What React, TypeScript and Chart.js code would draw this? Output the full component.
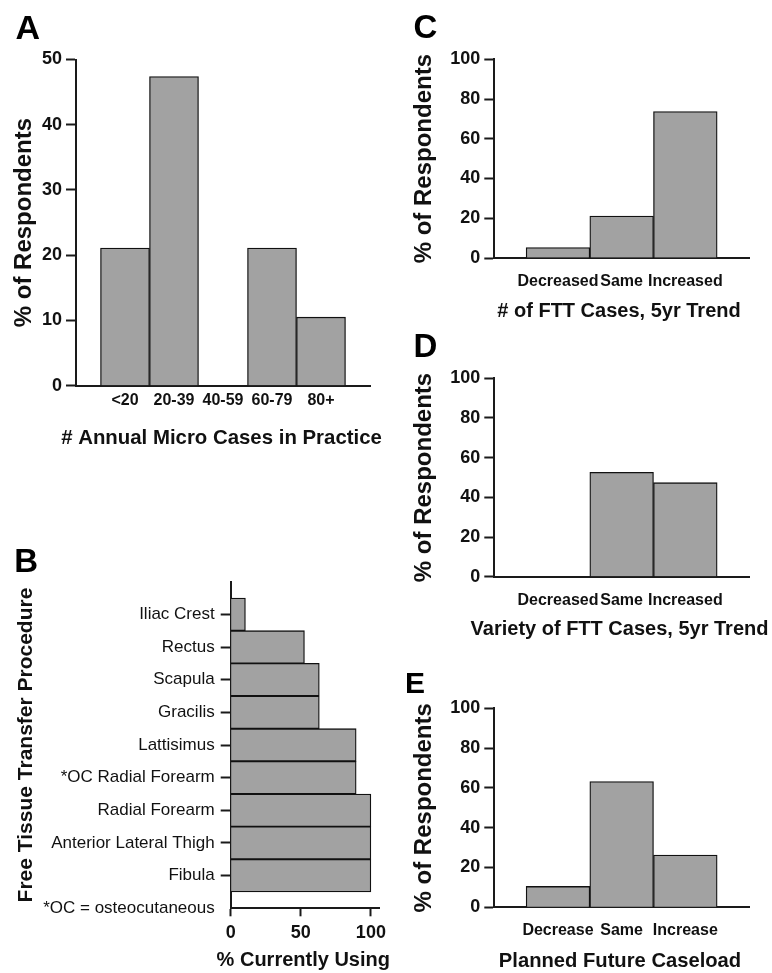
import React, { useEffect, useRef } from 'react';
import { Chart, registerables } from 'chart.js';

Chart.register(...registerables);

const FONT = '"Liberation Sans", Arial, Helvetica, sans-serif';
const INK = '#111111';
const AXIS = '#1a1a1a';
const BAR_FILL = '#a2a2a2';
const BAR_EDGE = '#111111';

// Panel A
const annualCategories = ['<20', '20-39', '40-59', '60-79', '80+'];
const annualValues = [21.1, 47.4, 0, 21.1, 10.5];
const annualTicks = [0, 10, 20, 30, 40, 50];

// Panel B
const procedureCategories = [
  'Iliac Crest',
  'Rectus',
  'Scapula',
  'Gracilis',
  'Lattisimus',
  '*OC Radial Forearm',
  'Radial Forearm',
  'Anterior Lateral Thigh',
  'Fibula',
];
const procedureValues = [10.5, 52.6, 63.2, 63.2, 89.5, 89.5, 100, 100, 100];
const procedureFootnote = '*OC = osteocutaneous';
const usingTicks = [0, 50, 100];

// Panels C, D, E
const trendCategories = ['Decreased', 'Same', 'Increased'];
const fttCountValues = [5.3, 21.1, 73.7];
const fttVarietyValues = [0, 52.6, 47.4];
const plannedCategories = ['Decrease', 'Same', 'Increase'];
const plannedValues = [10.5, 63.2, 26.3];
const percentTicks = [0, 20, 40, 60, 80, 100];

type Box = { l: number; t: number; r: number; b: number };
type Geo = { x: number; y: number; w: number; h: number; area: Box };
type TitleSpec = { text: string; size: number; cx: number; cy: number };

function derive(g: Geo) {
  return {
    padTop: g.area.t - g.y,
    padRight: g.x + g.w - g.area.r,
    yWidth: g.area.l - g.x,
    xHeight: g.y + g.h - g.area.b,
  };
}

// Axis title drawn without Chart.js's width squeeze (titles are wider than the plot area).
function xTitlePlugin(geo: Geo, t: TitleSpec) {
  return {
    id: 'wideXTitle',
    afterDraw(chart: any) {
      const ctx = chart.ctx;
      ctx.save();
      ctx.font = `bold ${t.size}px ${FONT}`;
      ctx.fillStyle = INK;
      ctx.textAlign = 'center';
      ctx.textBaseline = 'middle';
      ctx.fillText(t.text, t.cx - geo.x, t.cy - geo.y);
      ctx.restore();
    },
  };
}

function verticalBarConfig(o: {
  geo: Geo;
  labels: string[];
  values: number[];
  yMax: number;
  yTicks: number[];
  yTitle: string;
  xTitle: TitleSpec;
  xTickPad: number;
  yTitlePadTop: number;
}) {
  const d = derive(o.geo);
  const labels = ['', ...o.labels, ''];
  const data = [null, ...o.values, null];
  return {
    type: 'bar',
    data: {
      labels,
      datasets: [
        {
          data,
          backgroundColor: BAR_FILL,
          borderColor: BAR_EDGE,
          borderWidth: 1.3,
          barPercentage: 1,
          categoryPercentage: 1,
        },
      ],
    },
    plugins: [xTitlePlugin(o.geo, o.xTitle)],
    options: {
      responsive: false,
      animation: false,
      maintainAspectRatio: false,
      layout: { padding: { top: d.padTop, right: d.padRight, left: 0, bottom: 0 } },
      plugins: { legend: { display: false }, tooltip: { enabled: false } },
      scales: {
        x: {
          type: 'category',
          offset: false,
          grid: { display: false, drawTicks: false, offset: false },
          border: { display: true, color: AXIS, width: 2 },
          ticks: {
            autoSkip: false,
            maxRotation: 0,
            minRotation: 0,
            padding: o.xTickPad,
            color: INK,
            font: { family: FONT, size: 16, weight: 'bold' },
          },
          title: { display: false },
          afterFit: (s: any) => {
            s.height = d.xHeight;
          },
        },
        y: {
          type: 'linear',
          min: 0,
          max: o.yMax,
          afterBuildTicks: (s: any) => {
            s.ticks = o.yTicks.map((v) => ({ value: v }));
          },
          grid: {
            drawOnChartArea: false,
            drawTicks: true,
            tickLength: 10,
            tickWidth: 2,
            tickColor: AXIS,
          },
          border: { display: true, color: AXIS, width: 2 },
          ticks: {
            padding: 4,
            color: INK,
            font: { family: FONT, size: 18, weight: 'bold' },
          },
          title: {
            display: true,
            text: o.yTitle,
            color: INK,
            font: { family: FONT, size: 24, weight: 'bold', lineHeight: 1.2 },
            padding: { top: o.yTitlePadTop, bottom: 0 },
          },
          afterFit: (s: any) => {
            s.width = d.yWidth;
          },
        },
      },
    },
  };
}

function horizontalBarConfig(geo: Geo, xTitle: TitleSpec) {
  const d = derive(geo);
  const labels = ['', ...procedureCategories, procedureFootnote];
  const data = [null, ...procedureValues, null];
  const last = labels.length - 1;
  return {
    type: 'bar',
    data: {
      labels,
      datasets: [
        {
          data,
          backgroundColor: BAR_FILL,
          borderColor: BAR_EDGE,
          borderWidth: 1.3,
          barPercentage: 1,
          categoryPercentage: 1,
        },
      ],
    },
    plugins: [xTitlePlugin(geo, xTitle)],
    options: {
      indexAxis: 'y',
      responsive: false,
      animation: false,
      maintainAspectRatio: false,
      layout: { padding: { top: d.padTop, right: d.padRight, left: 0, bottom: 0 } },
      plugins: { legend: { display: false }, tooltip: { enabled: false } },
      scales: {
        y: {
          type: 'category',
          offset: false,
          grid: {
            offset: false,
            drawOnChartArea: false,
            drawTicks: true,
            tickLength: 10,
            tickWidth: 2,
            tickColor: (c: any) => (c.index === 0 || c.index === last ? 'rgba(0,0,0,0)' : AXIS),
          },
          border: { display: true, color: AXIS, width: 2 },
          ticks: {
            autoSkip: false,
            padding: 6,
            color: INK,
            font: { family: FONT, size: 17, weight: 'normal' },
          },
          title: {
            display: true,
            text: 'Free Tissue Transfer Procedure',
            color: INK,
            font: { family: FONT, size: 21, weight: 'bold', lineHeight: 1.2 },
            padding: { top: 13.4, bottom: 0 },
          },
          afterFit: (s: any) => {
            s.width = d.yWidth;
          },
        },
        x: {
          type: 'linear',
          min: 0,
          max: 106,
          afterBuildTicks: (s: any) => {
            s.ticks = usingTicks.map((v) => ({ value: v }));
          },
          grid: {
            drawOnChartArea: false,
            drawTicks: true,
            tickLength: 8,
            tickWidth: 2,
            tickColor: AXIS,
          },
          border: { display: true, color: AXIS, width: 2 },
          ticks: {
            autoSkip: false,
            maxRotation: 0,
            minRotation: 0,
            padding: 5.6,
            color: INK,
            font: { family: FONT, size: 18, weight: 'bold' },
          },
          title: { display: false },
          afterFit: (s: any) => {
            s.height = d.xHeight;
          },
        },
      },
    },
  };
}

function Panel({ geo, config }: { geo: Geo; config: any }) {
  const ref = useRef<HTMLCanvasElement | null>(null);
  useEffect(() => {
    if (!ref.current) return;
    const chart = new Chart(ref.current, config);
    return () => chart.destroy();
  }, [geo, config]);
  return (
    <canvas
      ref={ref}
      width={geo.w}
      height={geo.h}
      style={{ position: 'absolute', left: geo.x, top: geo.y, width: geo.w, height: geo.h }}
    />
  );
}

const geoA: Geo = { x: 0, y: 0, w: 390, h: 460, area: { l: 76, t: 59.5, r: 370, b: 385.7 } };
const geoB: Geo = { x: 0, y: 470, w: 400, h: 503, area: { l: 230.7, t: 581.7, r: 379.3, b: 908.3 } };
const geoC: Geo = { x: 400, y: 0, w: 372, h: 330, area: { l: 494.3, t: 59.3, r: 749, b: 258 } };
const geoD: Geo = { x: 400, y: 320, w: 372, h: 330, area: { l: 494.3, t: 378.3, r: 749, b: 576.7 } };
const geoE: Geo = { x: 400, y: 640, w: 372, h: 333, area: { l: 494.3, t: 708.3, r: 749, b: 907.3 } };

const cfgA = verticalBarConfig({
  geo: geoA,
  labels: annualCategories,
  values: annualValues,
  yMax: 50,
  yTicks: annualTicks,
  yTitle: '% of Respondents',
  xTitle: { text: '# Annual Micro Cases in Practice', size: 20.4, cx: 221.5, cy: 438.5 },
  xTickPad: 5,
  yTitlePadTop: 9.6,
});
const cfgB = horizontalBarConfig(geoB, { text: '% Currently Using', size: 20, cx: 303.3, cy: 960 });
const cfgC = verticalBarConfig({
  geo: geoC,
  labels: trendCategories,
  values: fttCountValues,
  yMax: 100,
  yTicks: percentTicks,
  yTitle: '% of Respondents',
  xTitle: { text: '# of FTT Cases, 5yr Trend', size: 20, cx: 619, cy: 311.5 },
  xTickPad: 14.1,
  yTitlePadTop: 9.6,
});
const cfgD = verticalBarConfig({
  geo: geoD,
  labels: trendCategories,
  values: fttVarietyValues,
  yMax: 100,
  yTicks: percentTicks,
  yTitle: '% of Respondents',
  xTitle: { text: 'Variety of FTT Cases, 5yr Trend', size: 20, cx: 619.5, cy: 629.5 },
  xTickPad: 14.7,
  yTitlePadTop: 9.6,
});
const cfgE = verticalBarConfig({
  geo: geoE,
  labels: plannedCategories,
  values: plannedValues,
  yMax: 100,
  yTicks: percentTicks,
  yTitle: '% of Respondents',
  xTitle: { text: 'Planned Future Caseload', size: 20.2, cx: 620, cy: 961.5 },
  xTickPad: 14.1,
  yTitlePadTop: 9.6,
});

const letterStyle = (left: number, top: number, size: number): React.CSSProperties => ({
  position: 'absolute',
  left,
  top,
  fontFamily: FONT,
  fontWeight: 'bold',
  fontSize: size,
  lineHeight: 1,
  color: '#000',
});

export default function App() {
  return (
    <div
      style={{
        position: 'absolute',
        left: 0,
        top: 0,
        width: 772,
        height: 973,
        background: '#fff',
        overflow: 'hidden',
      }}
    >
      <Panel geo={geoA} config={cfgA} />
      <Panel geo={geoB} config={cfgB} />
      <Panel geo={geoC} config={cfgC} />
      <Panel geo={geoD} config={cfgD} />
      <Panel geo={geoE} config={cfgE} />
      <div style={letterStyle(15.5, 10, 34)}>A</div>
      <div style={letterStyle(14.3, 544.3, 33)}>B</div>
      <div style={letterStyle(413.6, 10.3, 33)}>C</div>
      <div style={letterStyle(413.5, 329, 33)}>D</div>
      <div style={letterStyle(405, 668.3, 30)}>E</div>
    </div>
  );
}
